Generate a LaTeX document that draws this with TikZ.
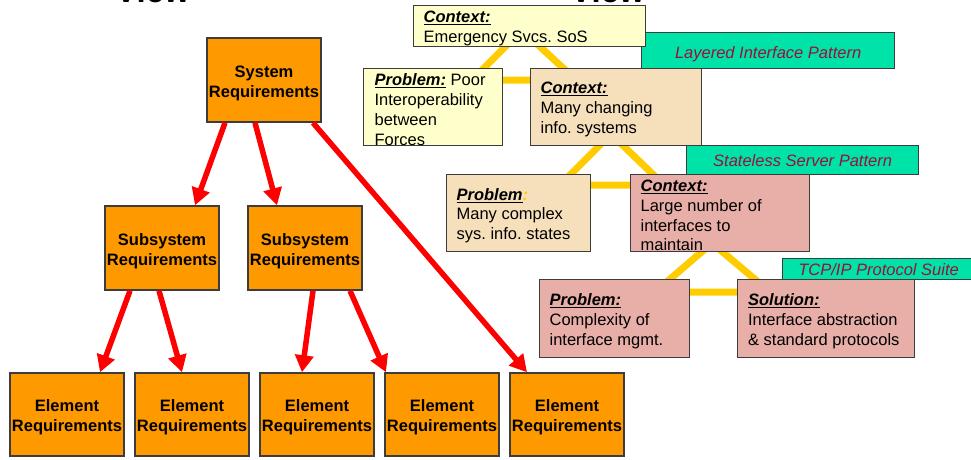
\documentclass[tikz,border=0pt]{standalone}
\usepackage{fontspec}
\setmainfont{Liberation Sans}
\usetikzlibrary{arrows.meta}

\definecolor{reqorange}{HTML}{FF9900}
\definecolor{paleyellow}{HTML}{FFFFCC}
\definecolor{tanfill}{HTML}{F6E0BC}
\definecolor{pinkfill}{HTML}{E7AFA7}
\definecolor{tagfill}{HTML}{00E3A8}
\definecolor{tagtext}{HTML}{99103A}
\definecolor{linkgold}{HTML}{FFCC00}
\definecolor{edge}{HTML}{3C3C3C}

\newcommand\pathead[1]{\underline{\textbf{\textit{#1}}}}
% left-aligned block of lines, set a little below the optical centre
\newcommand\patblock[2]{\raisebox{-2.5pt}[\height][\depth]{\parbox[c]{#1}{\raggedright #2}}}
% centred two-line label of a requirements box
\newcommand\reqlabel[2]{\raisebox{-3pt}[\height][\depth]{\parbox[c]{112pt}{\centering #1\\#2}}}

\tikzset{
  req/.style={draw=edge, line width=1.5pt, fill=reqorange, minimum width=114pt,
    minimum height=84pt, inner sep=0pt,
    font=\fontsize{16.5}{20}\selectfont\bfseries},
  arr/.style={draw=red, line width=5.5pt, -{Triangle[length=17pt,width=18pt]}},
  pat/.style={draw=edge, line width=1.2pt, inner xsep=10pt, inner ysep=0pt,
    anchor=north west, font=\fontsize{16.5}{19.7}\selectfont},
  tag/.style={draw=edge, line width=1.2pt, fill=tagfill, inner xsep=10pt,
    inner ysep=0pt, align=left, anchor=north west, text=tagtext, text depth=-2pt,
    font=\fontsize{16.5}{19.7}\selectfont\itshape},
  link/.style={draw=linkgold, line width=7pt},
  viewtitle/.style={anchor=base west, inner sep=0pt,
    font=\fontsize{33}{36}\selectfont\bfseries},
}

\begin{document}
\frenchspacing
\begin{tikzpicture}[x=1pt, y=-1pt]
\useasboundingbox (0,0) rectangle (971,459);

% view titles, mostly above the page edge
\node[viewtitle] (ttlL) at (115,2.5) {View};
\node[viewtitle] (ttlR) at (570,2.5) {View};

% ---------- requirements tree ----------
\node[req] (sys)  at (264,80)  {\reqlabel{System}{Requirements}};
\node[req] (subA) at (162,248) {\reqlabel{Subsystem}{Requirements}};
\node[req] (subB) at (305,248) {\reqlabel{Subsystem}{Requirements}};
\foreach \i/\cx in {1/67, 2/192, 3/317, 4/442, 5/567}
  \node[req, minimum height=83pt] (e\i) at (\cx,414.5) {\reqlabel{Element}{Requirements}};

\draw[arr] ([xshift=-39pt]sys.south) -- ([xshift=33pt]subA.north);
\draw[arr] ([xshift=-9pt]sys.south)  -- ([xshift=-28pt]subB.north);
\draw[arr] ([xshift=49pt]sys.south)  -- ([xshift=-40pt]e5.north);
\draw[arr] ([xshift=-32pt]subA.south) -- ([xshift=33pt]e1.north);
\draw[arr] ([xshift=-3pt]subA.south)  -- ([xshift=-10pt]e2.north);
\draw[arr] ([xshift=8pt]subB.south)   -- ([xshift=-15pt]e3.north);
\draw[arr] ([xshift=45pt]subB.south)  -- ([xshift=-56pt]e4.north);

% ---------- pattern triangles ----------
\coordinate (t1a) at (522,30);  \coordinate (t1b) at (472,80);  \coordinate (t1c) at (576,80);
\coordinate (t2a) at (611,134); \coordinate (t2b) at (560,185); \coordinate (t2c) at (664,185);
\coordinate (t3a) at (712,243); \coordinate (t3b) at (655,292); \coordinate (t3c) at (770,292);
\draw[link] (t1a) -- (t1b) -- (t1c) -- cycle;
\draw[link] (t2a) -- (t2b) -- (t2c) -- cycle;
\draw[link] (t3a) -- (t3b) -- (t3c) -- cycle;

% ---------- pattern name tags ----------
\node[tag, minimum width=253pt, minimum height=36pt] (tagA) at (641,32)
  {\raisebox{-1.5pt}[\height][\depth]{Layered Interface Pattern}};
\node[tag, minimum width=232pt, minimum height=29pt] (tagB) at (686,145) {Stateless Server Pattern};
\node[tag, minimum width=192pt, minimum height=21pt, inner xsep=13pt] (tagC) at (782,258) {TCP/IP Protocol Suite};

% ---------- pattern boxes ----------
\node[pat, fill=paleyellow, minimum height=41pt] (ctxA) at (413,5)
  {\patblock{212pt}{\pathead{Context:}\\Emergency Svcs. SoS}};
\node[pat, fill=paleyellow, minimum height=77pt, inner xsep=11pt] (probA) at (363,68)
  {\patblock{117pt}{\pathead{Problem:} Poor\\Interoperability\\between\\Forces}};
\node[pat, fill=tanfill, minimum height=77pt] (ctxB) at (530,68)
  {\patblock{151pt}{\pathead{Context:}\\Many changing\\info. systems}};
\node[pat, fill=tanfill, minimum height=77pt] (probB) at (446,174)
  {\patblock{124pt}{\pathead{Problem}{\color{linkgold}\bfseries\itshape:}\\Many complex\\sys. info. states}};
\node[pat, fill=pinkfill, minimum height=77pt] (ctxC) at (630,174)
  {\patblock{159pt}{\pathead{Context:}\\Large number of\\interfaces to\\maintain}};
\node[pat, fill=pinkfill, minimum height=78pt] (probC) at (539,279)
  {\patblock{130pt}{\pathead{Problem:}\\Complexity of\\interface mgmt.}};
\node[pat, fill=pinkfill, minimum height=78pt, inner xsep=10.5pt] (solC) at (737,279)
  {\patblock{156pt}{\pathead{Solution:}\\Interface abstraction\\\& standard protocols}};
\end{tikzpicture}
\end{document}
